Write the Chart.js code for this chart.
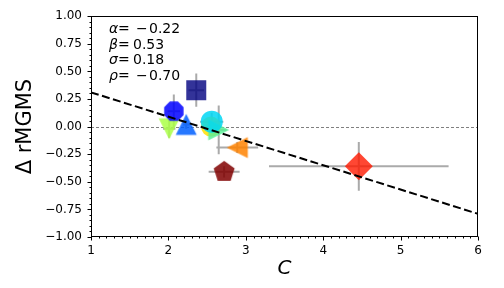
<!DOCTYPE html>
<html>
<head>
<meta charset="utf-8">
<script src="https://cdn.jsdelivr.net/npm/chart.js@4"></script>
<style>
  html, body { margin: 0; padding: 0; background: #fff; }
  #wrap { width: 504px; height: 288px; }
</style>
</head>
<body>
<div id="wrap"><canvas id="plot" width="504" height="288"></canvas></div>
<script>
// значения (порядок = порядок отрисовки)
const cVals  = [2.55, 2.65, 2.01, 2.07, 2.23, 2.56, 2.36, 2.89, 2.72, 4.46];
const dVals  = [0.00, -0.03, -0.02, 0.14, 0.02, 0.045, 0.33, -0.19, -0.41, -0.36];
const cErr   = [0.05, 0.10, 0.08, 0.08, 0.04, 0.15, 0.10, 0.27, 0.20, 1.16];
const dErr   = [0.05, 0.22, 0.08, 0.15, 0.04, 0.08, 0.15, 0.05, 0.05, 0.22];
const markers = ['yellow', 'mint', 'down', 'octagon', 'up', 'cyan', 'square', 'left', 'pentagon', 'diamond'];

// линия регрессии (концы)
const fitC = [1, 6];
const fitD = [0.31, -0.79];

const statNames  = ['α', 'β', 'σ', 'ρ'];
const statValues = ['−0.22', '0.53', '0.18', '−0.70'];

const FONT = "'DejaVu Sans', sans-serif";

function polyImage(pts, color) {
  const size = 26;
  const c = document.createElement('canvas');
  c.width = c.height = size;
  const g = c.getContext('2d');
  g.translate(size / 2, size / 2);
  g.beginPath();
  pts.forEach(([x, y], i) => i ? g.lineTo(x, y) : g.moveTo(x, y));
  g.closePath();
  g.fillStyle = color;
  g.fill();
  return c;
}

function regular(n, r, start) {
  const pts = [];
  for (let k = 0; k < n; k++) {
    const a = (start + k * 360 / n) * Math.PI / 180;
    pts.push([r * Math.cos(a), r * Math.sin(a)]);
  }
  return pts;
}

const h = 10.5;
const styles = {
  yellow:   { style: 'circle', radius: 10, color: 'rgba(255,225,0,0.85)' },
  mint:     { style: polyImage([[h, 0], [-h, -h], [-h, h]], 'rgba(90,240,150,0.85)'), radius: 10 },
  down:     { style: polyImage([[0, h], [-h, -h], [h, -h]], 'rgba(170,255,70,0.85)'), radius: 10 },
  octagon:  { style: polyImage(regular(8, 10.5, 22.5), 'rgba(0,0,255,0.85)'), radius: 10 },
  up:       { style: polyImage([[0, -h], [-h, h], [h, h]], 'rgba(0,95,255,0.85)'), radius: 10 },
  cyan:     { style: 'circle', radius: 11, color: 'rgba(0,215,245,0.85)' },
  square:   { style: 'rect', radius: 14.14, color: 'rgba(0,0,128,0.8)' },
  left:     { style: polyImage([[-h, 0], [h, -h], [h, h]], 'rgba(255,130,0,0.85)'), radius: 10 },
  pentagon: { style: polyImage(regular(5, 11, -90), 'rgba(128,0,0,0.85)'), radius: 10 },
  diamond:  { style: 'rectRot', radius: 14, color: 'rgba(255,25,0,0.8)' }
};

const points = cVals.map((c, i) => ({ x: c, y: dVals[i] }));

const framePlugin = {
  id: 'frame',
  beforeDatasetsDraw(chart) {
    const { ctx, chartArea: a, scales: { x, y } } = chart;
    ctx.save();
    // нулевая линия
    const y0 = Math.round(y.getPixelForValue(0)) + 0.5;
    ctx.strokeStyle = '#808080';
    ctx.lineWidth = 1;
    ctx.setLineDash([3, 2]);
    ctx.beginPath();
    ctx.moveTo(a.left, y0);
    ctx.lineTo(a.right, y0);
    ctx.stroke();
    ctx.setLineDash([]);
    // планки погрешностей
    ctx.strokeStyle = '#aaaaaa';
    ctx.lineWidth = 2;
    cVals.forEach((c, i) => {
      const px = x.getPixelForValue(c), py = y.getPixelForValue(dVals[i]);
      ctx.beginPath();
      ctx.moveTo(x.getPixelForValue(c - cErr[i]), py);
      ctx.lineTo(x.getPixelForValue(c + cErr[i]), py);
      ctx.moveTo(px, y.getPixelForValue(dVals[i] - dErr[i]));
      ctx.lineTo(px, y.getPixelForValue(dVals[i] + dErr[i]));
      ctx.stroke();
    });
    ctx.restore();
  },
  afterDraw(chart) {
    const { ctx, chartArea: a, scales: { x, y } } = chart;
    ctx.save();
    ctx.strokeStyle = '#000';
    ctx.lineWidth = 1;
    const L = Math.round(a.left) + 0.5, R = Math.round(a.right) - 0.5;
    const T = Math.round(a.top) + 0.5, B = Math.round(a.bottom) - 0.5;
    ctx.strokeRect(L, T, R - L, B - T);
    // риски
    ctx.beginPath();
    x.ticks.forEach(t => {
      const px = Math.round(x.getPixelForValue(t.value)) + 0.5;
      const len = t.label ? 4 : 2;
      ctx.moveTo(px, B);
      ctx.lineTo(px, B + len);
    });
    y.ticks.forEach(t => {
      const py = Math.round(y.getPixelForValue(t.value)) + 0.5;
      const len = t.label ? 4 : 2;
      ctx.moveTo(L, py);
      ctx.lineTo(L - len, py);
    });
    ctx.stroke();
    // статистика
    ctx.fillStyle = '#000';
    ctx.textBaseline = 'alphabetic';
    statNames.forEach((n, i) => {
      const by = 33 + i * 15.6;
      ctx.font = 'italic 14px ' + FONT;
      ctx.fillText(n, 109, by);
      ctx.font = '14px ' + FONT;
      ctx.fillText('=', 118, by);
      const v = statValues[i];
      if (v.startsWith('−')) {
        ctx.fillText('−', 136, by);
        ctx.fillText(v.slice(1), 149, by);
      } else {
        ctx.fillText(v, 133, by);
      }
    });
    ctx.restore();
  }
};

new Chart(document.getElementById('plot'), {
  type: 'scatter',
  data: {
    datasets: [
      {
        type: 'line',
        data: fitC.map((c, i) => ({ x: c, y: fitD[i] })),
        borderColor: '#000',
        borderWidth: 2,
        borderDash: [8, 3.5],
        pointRadius: 0,
        fill: false,
        order: 0
      },
      {
        data: points,
        pointStyle: markers.map(m => styles[m].style),
        pointRadius: markers.map(m => styles[m].radius),
        backgroundColor: markers.map(m => styles[m].color || 'rgba(0,0,0,0)'),
        borderWidth: 0,
        order: 1
      }
    ]
  },
  options: {
    responsive: false,
    animation: false,
    layout: { padding: { top: 15, right: 26, left: 0, bottom: 0 } },
    plugins: { legend: { display: false }, tooltip: { enabled: false } },
    scales: {
      x: {
        type: 'linear',
        min: 1, max: 6,
        afterFit: s => { s.height = 51; },
        grid: { drawOnChartArea: false, drawTicks: false },
        border: { display: false },
        ticks: {
          stepSize: 0.1, autoSkip: false, maxRotation: 0, padding: 7,
          color: '#000', font: { family: FONT, size: 12 },
          callback: v => Math.abs(v - Math.round(v)) < 1e-6 ? String(Math.round(v)) : ''
        },
        title: {
          display: true, text: 'C', color: '#000',
          font: { family: FONT, size: 20, style: 'italic' },
          padding: { top: 0, bottom: 7 }
        }
      },
      y: {
        type: 'linear',
        min: -1, max: 1,
        afterFit: s => { s.width = 91; },
        grid: { drawOnChartArea: false, drawTicks: false },
        border: { display: false },
        ticks: {
          stepSize: 0.05, autoSkip: false, padding: 9,
          color: '#000', font: { family: FONT, size: 12 },
          callback: v => Math.abs(v * 4 - Math.round(v * 4)) < 1e-6 ? v.toFixed(2).replace('-', '−') : ''
        },
        title: {
          display: true, text: 'Δ rMGMS', color: '#000',
          font: { family: FONT, size: 21 },
          padding: { top: 13, bottom: 0 }
        }
      }
    }
  },
  plugins: [framePlugin]
});
</script>
</body>
</html>
